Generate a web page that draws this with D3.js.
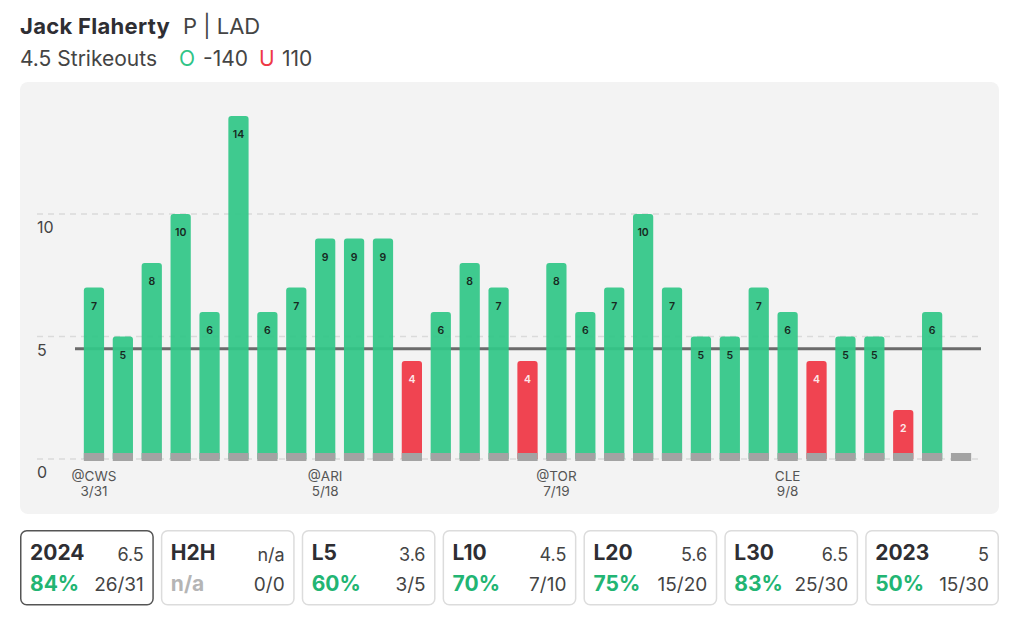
<!DOCTYPE html>
<html><head><meta charset="utf-8">
<script src="https://cdn.jsdelivr.net/npm/d3@7"></script>
<style>
html,body{margin:0;padding:0;background:#fff;}
svg{display:block;font-family:Inter,"Noto Sans",sans-serif;}
</style></head>
<body>
<svg id="c" width="1024" height="617"></svg>
<script>
const values = [7,5,8,10,6,14,6,7,9,9,9,4,6,8,7,4,8,6,7,10,7,5,5,7,6,4,5,5,2,6,null];
const xLabels = {0:["@CWS","3/31"],8:["@ARI","5/18"],16:["@TOR","7/19"],24:["CLE","9/8"]};
const line = 4.5;
const yTicks = [0,5,10];
const cardTitles = ["2024","H2H","L5","L10","L20","L30","2023"];
const cardAvg = ["6.5","n/a","3.6","4.5","5.6","6.5","5"];
const cardPct = ["84%","n/a","60%","70%","75%","83%","50%"];
const cardFrac = ["26/31","0/0","3/5","7/10","15/20","25/30","15/30"];

const svg = d3.select("#c");
const GREEN="#33c788", RED="#ef3846";

// header
const h = svg.append("text").attr("y",34).attr("font-size",22).attr("fill","#2e2e33");
h.append("tspan").attr("x",20).attr("font-weight",700).attr("letter-spacing",0.3).text("Jack Flaherty");
h.append("tspan").attr("x",183).attr("font-weight",400).attr("fill","#444").text("P | LAD");
const h2 = svg.append("text").attr("y",66).attr("font-size",21).attr("fill","#444");
h2.append("tspan").attr("x",20).text("4.5 Strikeouts");
h2.append("tspan").attr("x",179).attr("fill","#2fc487").text("O");
h2.append("tspan").attr("x",203).text("-140");
h2.append("tspan").attr("x",259).attr("fill","#ee3946").text("U");
h2.append("tspan").attr("x",282).text("110");

// panel
svg.append("rect").attr("x",20).attr("y",82).attr("width",979).attr("height",432).attr("rx",8).attr("fill","#f3f3f3");

const x = d3.scaleBand().domain(d3.range(values.length)).range([79.5,975.5]).paddingInner(0.3).paddingOuter(0.15);
const y = d3.scaleLinear().domain([0,15]).range([459,91.5]);

// grid
svg.append("g").selectAll("line").data(yTicks).join("line")
  .attr("x1",37).attr("x2",981).attr("y1",d=>y(d)).attr("y2",d=>y(d))
  .attr("stroke","#dadada").attr("stroke-width",1.5).attr("stroke-dasharray","6,5");
svg.append("g").selectAll("text").data(yTicks).join("text")
  .attr("x",37).attr("y",d=>y(d)+19).attr("font-size",16).attr("fill","#444").text(d=>d);

// threshold line
svg.append("line").attr("x1",75).attr("x2",981).attr("y1",y(line)).attr("y2",y(line))
  .attr("stroke","#6b6b6b").attr("stroke-width",3);

const bw = x.bandwidth();
const data = values.map((v,i)=>({v,i}));
const bars = svg.append("g");
bars.selectAll("path").data(data.filter(d=>d.v!=null)).join("path")
  .attr("d",d=>{
    const x0=x(d.i), x1=x0+bw, t=y(d.v), b=y(0), r=3;
    return `M${x0},${b}V${t+r}Q${x0},${t} ${x0+r},${t}H${x1-r}Q${x1},${t} ${x1},${t+r}V${b}Z`;
  })
  .attr("fill",d=>d.v>line?GREEN:RED).attr("fill-opacity",0.94);
bars.selectAll("rect.base").data(data).join("rect").attr("class","base")
  .attr("x",d=>x(d.i)).attr("width",bw).attr("y",y(0)-6).attr("height",8).attr("fill","#a3a3a3");
bars.selectAll("text").data(data.filter(d=>d.v!=null)).join("text")
  .attr("x",d=>x(d.i)+bw/2).attr("y",d=>y(d.v)+22).attr("text-anchor","middle")
  .attr("font-size",10.5).attr("font-weight",600)
  .attr("fill",d=>d.v>line?"#17291f":"#fde8ea").text(d=>d.v);

// x labels
const xl = svg.append("g").selectAll("text").data(Object.entries(xLabels)).join("text")
  .attr("text-anchor","middle").attr("font-size",13.5).attr("fill","#555");
xl.append("tspan").attr("x",d=>x(+d[0])+bw/2).attr("y",481).text(d=>d[1][0]);
xl.append("tspan").attr("x",d=>x(+d[0])+bw/2).attr("y",496).text(d=>d[1][1]);

// cards
const cx = d3.scaleBand().domain(d3.range(cardTitles.length)).range([20,999]).paddingInner(0.05).paddingOuter(0);
const cw = cx.bandwidth();
const cg = svg.append("g").selectAll("g").data(cardTitles.map((t,i)=>i)).join("g")
  .attr("transform",i=>`translate(${cx(i)},530)`);
cg.append("rect").attr("x",0.75).attr("y",0.75).attr("width",cw-1.5).attr("height",74).attr("rx",6)
  .attr("fill","#fff").attr("stroke",i=>i===0?"#555":"#dcdcdc").attr("stroke-width",1.5);
cg.append("text").attr("x",10).attr("y",30).attr("font-size",21).attr("font-weight",700).attr("fill","#2e2e33").text(i=>cardTitles[i]);
cg.append("text").attr("x",cw-10).attr("y",31).attr("text-anchor","end").attr("font-size",18).attr("fill","#444").text(i=>cardAvg[i]);
cg.append("text").attr("x",10).attr("y",61).attr("font-size",21).attr("font-weight",700)
  .attr("fill",i=>cardPct[i]==="n/a"?"#b5b5b5":"#22b573").text(i=>cardPct[i]);
cg.append("text").attr("x",cw-10).attr("y",61).attr("text-anchor","end").attr("font-size",19).attr("fill","#444").text(i=>cardFrac[i]);
</script>
</body></html>
